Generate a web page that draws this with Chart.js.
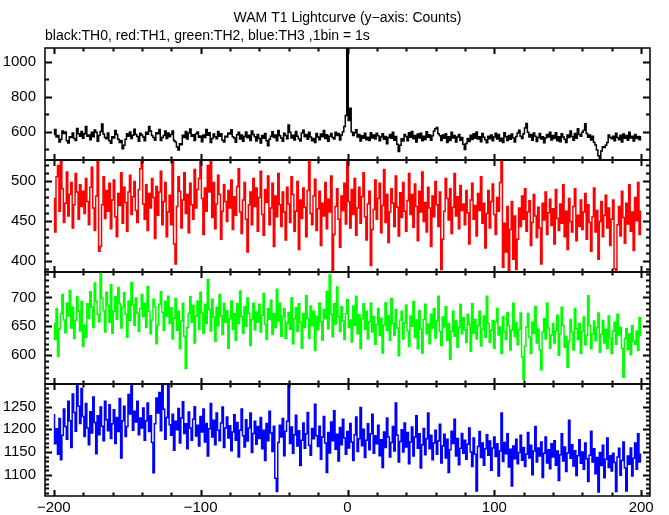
<!DOCTYPE html>
<html>
<head>
<meta charset="utf-8">
<title>WAM T1 Lightcurve</title>
<script src="https://cdn.jsdelivr.net/npm/chart.js@4/dist/chart.umd.min.js"></script>
<style>
  html, body { margin: 0; padding: 0; background: #fff; }
  canvas { display: block; }
</style>
</head>
<body>
<canvas id="lc" width="669" height="515"></canvas>
<script>
// time bins: 1 bin = 1 s, from -200 s to +200 s
const binStart = -200;
const binWidth = 1;

// TH0 (black)
const th0 = [
  583, 612, 569, 577, 541, 556, 603, 589, 598, 547, 535, 571, 566, 592, 560, 549, 618, 587, 574, 601,
  562, 588, 629, 574, 581, 553, 597, 571, 609, 596, 545, 578, 601, 643, 586, 566, 559, 592, 548, 533,
  571, 564, 607, 583, 556, 538, 549, 501, 522, 556, 587, 573, 598, 561, 579, 614, 583, 572, 544, 590,
  581, 569, 548, 597, 585, 629, 603, 577, 566, 551, 594, 588, 612, 549, 566, 578, 604, 561, 592, 570,
  584, 603, 549, 541, 512, 494, 531, 525, 579, 566, 601, 557, 592, 615, 573, 582, 549, 587, 598, 567,
  575, 542, 581, 566, 612, 579, 593, 537, 560, 586, 571, 559, 601, 574, 588, 551, 540, 573, 569, 592,
  586, 611, 571, 563, 539, 582, 596, 557, 581, 544, 572, 598, 565, 579, 549, 603, 583, 571, 546, 584,
  561, 534, 577, 562, 589, 548, 519, 556, 573, 599, 566, 581, 548, 607, 576, 563, 545, 591, 578, 559,
  638, 597, 563, 579, 552, 601, 574, 558, 546, 592, 608, 571, 583, 556, 597, 569, 548, 561, 537, 589,
  569, 553, 586, 571, 606, 561, 582, 544, 573, 589, 566, 557, 596, 578, 589, 552, 581, 599, 629, 692,
  1300, 664, 734, 598, 577, 594, 611, 569, 583, 546, 576, 562, 591, 553, 568, 549, 594, 563, 581, 557,
  591, 576, 547, 569, 588, 556, 572, 531, 566, 584, 562, 597, 551, 572, 527, 486, 521, 559, 546, 583,
  572, 548, 593, 567, 601, 559, 577, 541, 586, 563, 591, 547, 574, 555, 599, 568, 582, 551, 576, 604,
  617, 623, 588, 576, 549, 581, 562, 588, 537, 571, 549, 596, 563, 578, 541, 569, 583, 551, 566, 527,
  497, 532, 561, 543, 579, 554, 587, 562, 598, 557, 571, 542, 589, 567, 553, 536, 574, 559, 581, 548,
  569, 591, 557, 583, 546, 562, 538, 594, 571, 549, 578, 556, 586, 563, 541, 572, 592, 608, 574, 561,
  588, 621, 646, 597, 569, 583, 551, 592, 574, 543, 566, 589, 557, 571, 536, 563, 584, 569, 597, 552,
  578, 561, 593, 548, 571, 542, 587, 569, 556, 538, 581, 566, 603, 572, 551, 589, 562, 616, 583, 574,
  596, 608, 645, 589, 567, 581, 552, 574, 539, 523, 494, 462, 446, 488, 513, 509, 521, 537, 581, 566,
  559, 574, 548, 591, 566, 553, 579, 541, 586, 562, 577, 551, 597, 563, 574, 546, 583, 561, 572, 553,
  571
];

// TH1 (red)
const th1 = [
  478, 436, 505, 519, 462, 527, 490, 448, 472, 511, 456, 483, 498, 441, 470, 509, 486, 452, 495, 468,
  487, 459, 503, 474, 445, 492, 517, 466, 438, 481, 527, 412, 418, 470, 505, 453, 488, 462, 497, 440,
  476, 501, 455, 430, 484, 469, 510, 447, 492, 473, 437, 486, 507, 458, 480, 499, 463, 448, 489, 515,
  527, 471, 452, 495, 438, 484, 466, 503, 479, 428, 493, 457, 486, 512, 445, 474, 498, 430, 461, 482,
  445, 527, 421, 396, 468, 505, 487, 441, 476, 510, 459, 483, 435, 497, 470, 452, 514, 466, 489, 503,
  527, 478, 433, 491, 462, 519, 486, 527, 454, 498, 440, 471, 507, 483, 427, 462, 495, 474, 449, 488,
  466, 501, 439, 480, 457, 493, 515, 461, 434, 476, 498, 452, 411, 470, 486, 445, 503, 468, 491, 437,
  479, 512, 458, 432, 489, 473, 506, 445, 466, 497, 418, 481, 455, 509, 470, 443, 486, 461, 426, 492,
  471, 448, 505, 483, 437, 462, 499, 414, 476, 453, 491, 467, 430, 488, 527, 459, 445, 481, 502, 438,
  465, 487, 419, 472, 456, 498, 440, 477, 461, 506, 388, 433, 468, 490, 452, 417, 481, 463, 497, 446,
  527, 474, 441, 489, 458, 503, 432, 466, 492, 447, 480, 510, 455, 426, 471, 487, 394, 439, 464, 501,
  452, 478, 497, 435, 469, 514, 448, 483, 423, 461, 490, 472, 443, 506, 467, 431, 485, 454, 498, 462,
  437, 475, 509, 458, 483, 442, 496, 468, 425, 487, 461, 511, 449, 473, 436, 492, 466, 418, 481, 455,
  499, 470, 443, 486, 389, 427, 462, 503, 478, 451, 490, 434, 467, 509, 456, 480, 440, 494, 463, 471,
  445, 488, 460, 421, 476, 497, 452, 469, 431, 484, 463, 505, 447, 472, 416, 459, 488, 441, 474, 496,
  458, 433, 479, 462, 498, 527, 392, 447, 411, 468, 388, 439, 474, 402, 456, 389, 427, 466, 443, 481,
  452, 490, 437, 461, 475, 419, 448, 483, 456, 429, 467, 441, 396, 472, 451, 486, 433, 460, 477, 444,
  465, 421, 489, 453, 438, 471, 447, 495, 430, 462, 414, 478, 449, 436, 468, 490, 425, 457, 443, 476,
  439, 461, 484, 427, 470, 448, 412, 455, 491, 436, 463, 402, 449, 474, 430, 457, 482, 441, 466, 419,
  452, 476, 390, 388, 445, 468, 431, 487, 454, 422, 472, 446, 495, 437, 461, 413, 479, 450, 498, 433,
  462
];

// TH2 (green)
const th2 = [
  655, 627, 681, 598, 646, 672, 705, 661, 639, 690, 668, 712, 647, 683, 629, 660, 701, 676, 642, 693,
  615, 652, 631, 689, 664, 710, 683, 648, 725, 694, 671, 658, 743, 699, 677, 640, 709, 686, 657, 722,
  638, 676, 701, 662, 717, 689, 647, 683, 708, 671, 631, 694, 660, 726, 687, 652, 699, 673, 641, 681,
  705, 667, 690, 648, 719, 676, 637, 661, 697, 684, 620, 652, 688, 710, 674, 643, 693, 667, 702, 655,
  682, 628, 664, 698, 643, 676, 611, 659, 690, 633, 577, 648, 672, 701, 657, 686, 621, 668, 694, 645,
  709, 673, 638, 688, 655, 731, 679, 642, 697, 666, 624, 683, 651, 705, 668, 636, 690, 657, 677, 612,
  663, 694, 645, 672, 626, 689, 655, 711, 667, 638, 684, 650, 699, 672, 617, 662, 690, 644, 675, 657,
  688, 640, 669, 707, 653, 627, 681, 662, 695, 636, 672, 648, 714, 659, 690, 633, 667, 681, 629, 656,
  674, 645, 699, 620, 663, 682, 641, 689, 657, 612, 672, 648, 703, 664, 629, 685, 651, 676, 608, 667,
  644, 690, 658, 626, 679, 663, 710, 646, 739, 671, 632, 689, 654, 718, 667, 641, 684, 659, 627, 672,
  696, 648, 661, 623, 685, 652, 702, 637, 670, 611, 663, 689, 645, 676, 628, 658, 690, 640, 667, 619,
  653, 681, 634, 664, 604, 652, 691, 643, 668, 626, 698, 655, 634, 679, 647, 599, 661, 676, 628, 656,
  687, 642, 615, 668, 650, 693, 631, 661, 611, 677, 645, 604, 662, 688, 637, 654, 620, 671, 647, 681,
  630, 659, 702, 641, 617, 666, 649, 684, 626, 655, 593, 641, 676, 633, 660, 614, 648, 688, 637, 665,
  644, 622, 671, 653, 607, 689, 638, 662, 628, 651, 676, 616, 645, 668, 631, 702, 655, 622, 643, 660,
  612, 658, 681, 635, 649, 603, 667, 641, 627, 674, 651, 609, 643, 690, 632, 656, 618, 645, 673, 597,
  558, 616, 649, 672, 631, 603, 657, 638, 684, 621, 645, 609, 575, 640, 663, 628, 690, 647, 612, 635,
  655, 621, 642, 669, 600, 637, 683, 651, 614, 633, 579, 624, 662, 640, 609, 681, 646, 627, 655, 603,
  641, 666, 618, 634, 703, 652, 611, 637, 659, 625, 648, 673, 605, 636, 660, 621, 645, 612, 668, 630,
  603, 642, 657, 619, 671, 635, 648, 612, 562, 629, 646, 610, 637, 601, 651, 624, 619, 642, 608, 665,
  634
];

// TH3 (blue)
const th3 = [
  1232, 1168, 1201, 1145, 1224, 1133, 1187, 1245, 1206, 1178, 1262, 1219, 1160, 1278, 1237, 1196, 1300, 1251, 1213, 1290,
  1228, 1184, 1257, 1203, 1166, 1239, 1192, 1271, 1215, 1146, 1230, 1188, 1249, 1207, 1175, 1262, 1221, 1197, 1254, 1180,
  1212, 1243, 1169, 1226, 1195, 1268, 1137, 1219, 1251, 1184, 1206, 1277, 1234, 1300, 1198, 1240, 1216, 1262, 1188, 1225,
  1203, 1247, 1176, 1219, 1258, 1195, 1230, 1171, 1104, 1212, 1269, 1236, 1281, 1197, 1300, 1244, 1178, 1226, 1300, 1210,
  1187, 1233, 1154, 1218, 1199, 1246, 1170, 1225, 1261, 1191, 1212, 1157, 1238, 1203, 1176, 1222, 1250, 1185, 1209, 1163,
  1228, 1194, 1245, 1172, 1213, 1141, 1201, 1257, 1183, 1220, 1166, 1236, 1198, 1175, 1214, 1249, 1160, 1203, 1227, 1181,
  1208, 1153, 1194, 1232, 1176, 1215, 1139, 1198, 1245, 1186, 1161, 1221, 1174, 1203, 1236, 1149, 1191, 1218, 1167, 1206,
  1180, 1226, 1157, 1198, 1131, 1213, 1175, 1240, 1192, 1151, 1207, 1092, 1063, 1171, 1209, 1183, 1224, 1142, 1196, 1218,
  1300, 1169, 1205, 1147, 1188, 1231, 1163, 1197, 1120, 1176, 1214, 1158, 1190, 1237, 1165, 1143, 1202, 1179, 1255, 1186,
  1162, 1207, 1134, 1183, 1228, 1170, 1105, 1193, 1148, 1216, 1175, 1241, 1156, 1189, 1130, 1204, 1166, 1222, 1181, 1145,
  1195, 1159, 1213, 1172, 1131, 1188, 1227, 1151, 1179, 1248, 1164, 1200, 1138, 1176, 1212, 1155, 1190, 1233, 1147, 1186,
  1168, 1209, 1142, 1177, 1116, 1194, 1160, 1225, 1183, 1139, 1171, 1206, 1152, 1258, 1187, 1128, 1173, 1199, 1150, 1214,
  1161, 1193, 1124, 1172, 1205, 1141, 1183, 1230, 1158, 1190, 1115, 1166, 1202, 1144, 1179, 1236, 1157, 1187, 1133, 1170,
  1198, 1145, 1174, 1211, 1126, 1163, 1189, 1137, 1178, 1105, 1155, 1196, 1169, 1222, 1141, 1180, 1122, 1158, 1191, 1147,
  1176, 1134, 1167, 1203, 1150, 1118, 1181, 1145, 1064, 1162, 1195, 1138, 1170, 1121, 1157, 1188, 1143, 1174, 1110, 1159,
  1183, 1140, 1168, 1097, 1152, 1236, 1129, 1171, 1146, 1190, 1117, 1156, 1075, 1163, 1135, 1178, 1124, 1149, 1187, 1132,
  1160, 1118, 1145, 1193, 1137, 1165, 1100, 1152, 1206, 1128, 1159, 1141, 1172, 1094, 1147, 1183, 1126, 1155, 1113, 1168,
  1139, 1175, 1121, 1152, 1087, 1144, 1190, 1130, 1161, 1107, 1148, 1220, 1136, 1166, 1119, 1153, 1098, 1142, 1177, 1125,
  1150, 1112, 1170, 1135, 1085, 1143, 1196, 1128, 1157, 1102, 1138, 1062, 1149, 1120, 1165, 1093, 1134, 1181, 1116, 1142,
  1108, 1147, 1127, 1063, 1139, 1158, 1099, 1131, 1172, 1115, 1064, 1141, 1123, 1159, 1097, 1136, 1170, 1112, 1190, 1128,
  1145
];

// panel setup: [scale id, series, colour, min, max, label step, minor tick step]
const panels = [
  ['y0', th0, '#000000', 437, 1080, 200, 100],
  ['y1', th1, '#ff0000', 386, 526, 50, 10],
  ['y2', th2, '#00ff00', 550.2, 744, 50, 10],
  ['y3', th3, '#0000ff', 1053, 1299.9, 50, 10]
];

const font = { family: "'Liberation Sans', Arial, sans-serif", size: 15 };

const toPoints = arr => arr.map((v, i) => ({ x: binStart + i * binWidth, y: v }));

// keep each curve inside its own panel
const panelClip = {
  id: 'panelClip',
  beforeDatasetDraw(chart, args) {
    const xs = args.meta.xScale, ys = args.meta.yScale;
    const ctx = chart.ctx;
    ctx.save();
    ctx.beginPath();
    ctx.rect(xs.left, ys.top, xs.right - xs.left, ys.bottom - ys.top);
    ctx.clip();
  },
  afterDatasetDraw(chart) {
    chart.ctx.restore();
  }
};

// frame + inward ticks on every panel
const frameTicks = {
  id: 'frameTicks',
  afterDraw(chart) {
    const ctx = chart.ctx;
    const xs = chart.scales.x;
    const l = xs.left, r = xs.right;
    ctx.save();
    ctx.strokeStyle = '#000';
    panels.forEach(([id, , , min, max, major, minor]) => {
      const s = chart.scales[id];
      const t = s.top, b = s.bottom;
      ctx.lineWidth = 1.5;
      ctx.strokeRect(l, t, r - l, b - t);
      ctx.lineWidth = 2;
      ctx.beginPath();
      for (let v = Math.ceil(min / minor) * minor; v <= max; v += minor) {
        const y = Math.round(s.getPixelForValue(v)) + 0.5;
        const len = v % major === 0 ? 7 : 4;
        ctx.moveTo(l, y); ctx.lineTo(l + len, y);
        ctx.moveTo(r, y); ctx.lineTo(r - len, y);
      }
      for (let v = -200; v <= 200; v += 20) {
        const x = Math.round(xs.getPixelForValue(v)) + 0.5;
        const len = v % 100 === 0 ? 6 : 3.5;
        ctx.moveTo(x, t); ctx.lineTo(x, t + len);
        ctx.moveTo(x, b); ctx.lineTo(x, b - len);
      }
      ctx.stroke();
    });
    ctx.restore();
  }
};

const yScale = (min, max, step, weight) => ({
  type: 'linear',
  position: 'left',
  stack: 'lc',
  stackWeight: 1,
  weight: weight,
  min: min,
  max: max,
  grid: { display: false, drawTicks: false },
  border: { display: false },
  ticks: {
    stepSize: step, includeBounds: false, autoSkip: false, padding: 9, color: '#000', font: font,
    callback: v => String(v)
  },
  afterFit: s => { s.width = 45; }
});

const scales = {
  x: {
    type: 'linear',
    min: -206,
    max: 206,
    grid: { display: false, drawTicks: false },
    border: { display: false },
    ticks: {
      stepSize: 100, includeBounds: false, autoSkip: false, padding: 3, color: '#000', font: font,
      maxRotation: 0,
      callback: v => String(v).replace('-', '\u2212')
    },
    afterFit: s => { s.height = 19; }
  }
};
panels.forEach(([id, , , min, max, step], i) => {
  scales[id] = yScale(min, max, step, 4 - i);
});

new Chart(document.getElementById('lc'), {
  type: 'line',
  data: {
    datasets: panels.map(([id, data, color]) => ({
      data: toPoints(data),
      yAxisID: id,
      borderColor: color,
      borderWidth: 1.5,
      pointRadius: 0,
      stepped: 'middle',
      fill: false
    }))
  },
  options: {
    responsive: false,
    animation: false,
    layout: { padding: { left: 0, right: 19, top: 0, bottom: 0 } },
    scales: scales,
    plugins: {
      legend: { display: false },
      tooltip: { enabled: false },
      title: {
        display: true,
        fullSize: false,
        text: 'WAM T1 Lightcurve (y\u2212axis: Counts)',
        color: '#000',
        font: { family: font.family, size: 14, weight: 'normal' },
        padding: { top: 10, bottom: 1 }
      },
      subtitle: {
        display: true,
        fullSize: false,
        align: 'start',
        text: 'black:TH0, red:TH1, green:TH2, blue:TH3 ,1bin = 1s',
        color: '#000',
        font: { family: font.family, size: 14, weight: 'normal' },
        padding: { top: 0, bottom: 3.4 }
      }
    }
  },
  plugins: [panelClip, frameTicks]
});
</script>
</body>
</html>
